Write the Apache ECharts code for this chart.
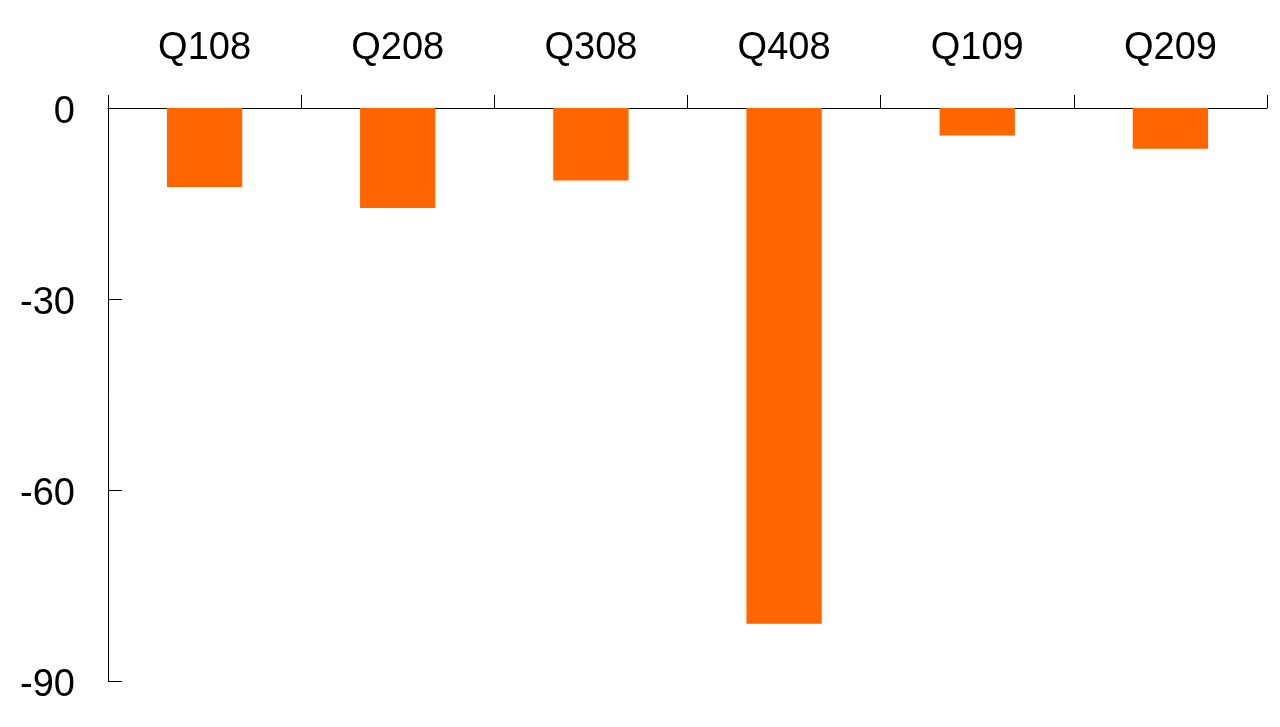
<!DOCTYPE html>
<html>
<head>
<meta charset="utf-8">
<script src="https://cdn.jsdelivr.net/npm/echarts@6/dist/echarts.min.js"></script>
<style>
html,body{margin:0;padding:0;background:#fff;}
#chart{width:1280px;height:727px;}
</style>
</head>
<body>
<div id="chart"></div>
<script>
const categories = ['Q108', 'Q208', 'Q308', 'Q408', 'Q109', 'Q209'];
const values = [-12.4, -15.7, -11.4, -81.0, -4.3, -6.4];
const yTicks = { min: -90, max: 0, interval: 30 };

const chart = echarts.init(document.getElementById('chart'));
chart.setOption({
  animation: false,
  backgroundColor: '#ffffff',
  grid: { left: 108, top: 108, right: 13, bottom: 46, containLabel: false },
  xAxis: {
    type: 'category',
    data: categories,
    position: 'top',
    axisLine: { show: true, lineStyle: { color: '#000', width: 1 } },
    axisTick: { show: true, length: 13, inside: false, lineStyle: { color: '#000' } },
    axisLabel: { color: '#000', fontSize: 38, fontFamily: 'Liberation Sans, Arial, sans-serif', margin: 40 },
    splitLine: { show: false }
  },
  yAxis: {
    type: 'value',
    min: yTicks.min, max: yTicks.max, interval: yTicks.interval,
    axisLine: { show: true, lineStyle: { color: '#000', width: 1 } },
    axisTick: { show: true, inside: true, length: 14, lineStyle: { color: '#000' } },
    axisLabel: {
      color: '#000', fontSize: 38, fontFamily: 'Liberation Sans, Arial, sans-serif', margin: 33,
      formatter: v => '{a|' + v + '}',
      rich: { a: { color: '#000', fontSize: 38, fontFamily: 'Liberation Sans, Arial, sans-serif', padding: [9, 0, 0, 0] } }
    },
    splitLine: { show: false }
  },
  series: [{
    type: 'bar',
    data: values,
    barWidth: '39%',
    itemStyle: { color: '#ff6600' }
  }]
});
</script>
</body>
</html>
